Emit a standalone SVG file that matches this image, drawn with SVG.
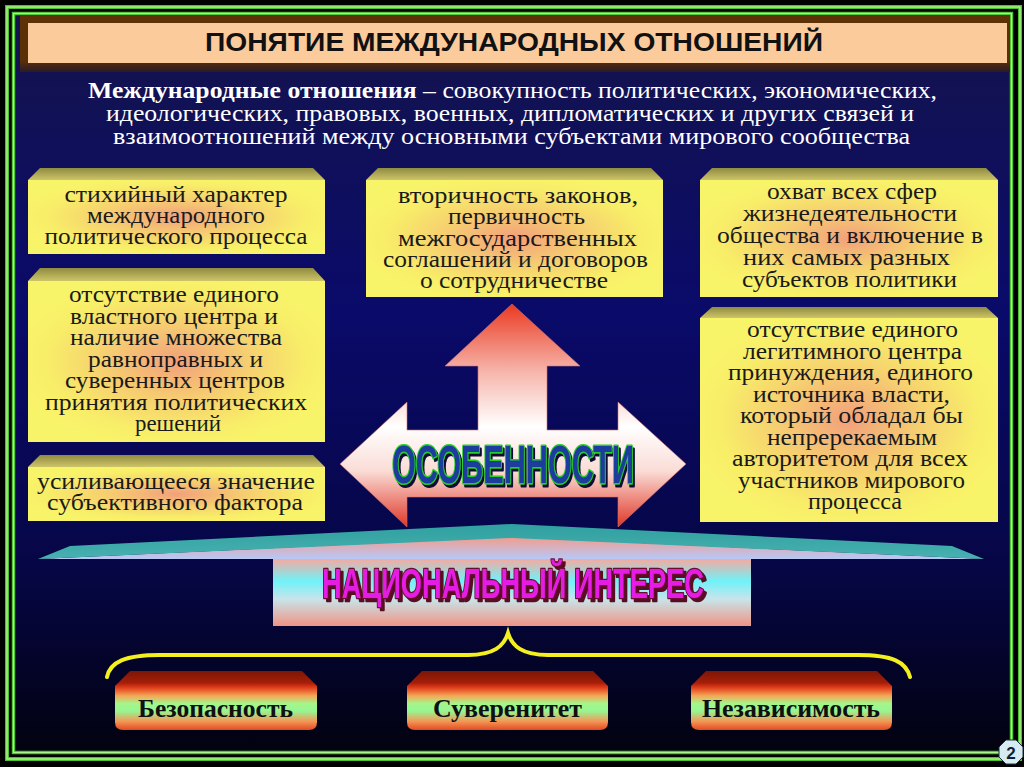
<svg xmlns="http://www.w3.org/2000/svg" width="1024" height="767" viewBox="0 0 1024 767">
<defs>
<linearGradient id="bg" x1="0" y1="0" x2="0" y2="1">
<stop offset="0" stop-color="#14144c"/>
<stop offset="0.4" stop-color="#0a0a6a"/>
<stop offset="0.75" stop-color="#060646"/>
<stop offset="1" stop-color="#020210"/>
</linearGradient>
<linearGradient id="brown" x1="0" y1="0" x2="0" y2="1">
<stop offset="0" stop-color="#5e3206"/>
<stop offset="0.8" stop-color="#5a3008"/>
<stop offset="1" stop-color="#2a1a2a"/>
</linearGradient>
<radialGradient id="ybox" cx="0.5" cy="0.5" r="0.55">
<stop offset="0" stop-color="#f2a07c"/>
<stop offset="0.45" stop-color="#f6d070"/>
<stop offset="0.8" stop-color="#f8ee68"/>
<stop offset="1" stop-color="#f8f46a"/>
</radialGradient>
<linearGradient id="bevel" x1="0" y1="0" x2="0" y2="1">
<stop offset="0" stop-color="#8e8a40"/>
<stop offset="1" stop-color="#cec468"/>
</linearGradient>
<linearGradient id="arrow" gradientUnits="userSpaceOnUse" x1="0" y1="304" x2="0" y2="527">
<stop offset="0" stop-color="#ea3a22"/>
<stop offset="0.3" stop-color="#f6b4aa"/>
<stop offset="0.55" stop-color="#ffffff"/>
<stop offset="0.75" stop-color="#fadcd6"/>
<stop offset="1" stop-color="#e03626"/>
</linearGradient>
<linearGradient id="under" gradientUnits="userSpaceOnUse" x1="0" y1="536" x2="0" y2="559">
<stop offset="0" stop-color="#f49a88"/>
<stop offset="1" stop-color="#b8c8f8"/>
</linearGradient>
<linearGradient id="teal" x1="0" y1="0" x2="0" y2="1">
<stop offset="0" stop-color="#30a0a0"/>
<stop offset="1" stop-color="#48b0b0"/>
</linearGradient>
<linearGradient id="nat" x1="0" y1="0" x2="0" y2="1">
<stop offset="0" stop-color="#f4aaa2"/>
<stop offset="0.33" stop-color="#70f2f8"/>
<stop offset="0.6" stop-color="#c8e4ea"/>
<stop offset="1" stop-color="#f09484"/>
</linearGradient>
<linearGradient id="gb" x1="0" y1="0" x2="0" y2="1">
<stop offset="0" stop-color="#7c1606"/>
<stop offset="0.2" stop-color="#a41e08"/>
<stop offset="0.28" stop-color="#e03c1a"/>
<stop offset="0.42" stop-color="#f6a656"/>
<stop offset="0.55" stop-color="#a4f68a"/>
<stop offset="0.68" stop-color="#96f692"/>
<stop offset="0.85" stop-color="#f49858"/>
<stop offset="1" stop-color="#e44a22"/>
</linearGradient>
<filter id="shBlue" x="-10%" y="-20%" width="130%" height="150%">
<feDropShadow dx="2" dy="3" stdDeviation="0.5" flood-color="#101030" flood-opacity="1"/>
</filter>
<filter id="shRed" x="-10%" y="-20%" width="130%" height="150%">
<feDropShadow dx="3" dy="3" stdDeviation="0.3" flood-color="#5a0a20" flood-opacity="1"/>
</filter>
<style>
.bt{font-family:"Liberation Serif","Times New Roman",serif;font-size:24px;fill:#1a1a1a;text-anchor:middle}
.df{font-family:"Liberation Serif","Times New Roman",serif;font-size:23px;fill:#ffffff;text-anchor:middle}
.bb{font-family:"Liberation Serif","Times New Roman",serif;font-size:25px;font-weight:bold;fill:#101010;text-anchor:middle}
.face{fill:url(#ybox)}
.bev{fill:url(#bevel)}
.gbox{fill:url(#gb)}
</style>
</defs>

<rect x="0" y="0" width="1024" height="767" fill="#000000"/>
<rect x="15" y="15" width="995" height="736" fill="url(#bg)"/>
<g id="frame" fill="none">
<rect x="7" y="7" width="1013" height="752" stroke="#4cc030" stroke-width="4"/>
<rect x="7" y="7" width="1013" height="752" stroke="#a8f488" stroke-width="1.5"/>
<rect x="13.5" y="13.5" width="998" height="739" stroke="#4cc030" stroke-width="3.5"/>
<rect x="13.5" y="13.5" width="998" height="739" stroke="#a8f488" stroke-width="1.2"/>
</g>

<g id="title">
<rect x="20" y="15" width="990" height="57" fill="url(#brown)"/>
<rect x="28" y="23" width="979" height="40" fill="#fccb9c"/>
<text x="514" y="51" font-family="'Liberation Sans Narrow','Liberation Sans',Arial,sans-serif" font-size="26" font-weight="bold" fill="#111111" text-anchor="middle" textLength="618" lengthAdjust="spacingAndGlyphs">ПОНЯТИЕ МЕЖДУНАРОДНЫХ ОТНОШЕНИЙ</text>
</g>

<g id="definition">
<text class="df" x="512.5" y="98" textLength="849" lengthAdjust="spacingAndGlyphs"><tspan font-weight="bold">Международные отношения</tspan> – совокупность политических, экономических,</text>
<text class="df" x="510" y="121" textLength="808" lengthAdjust="spacingAndGlyphs">идеологических, правовых, военных, дипломатических и других связей и</text>
<text class="df" x="511.5" y="144" textLength="797" lengthAdjust="spacingAndGlyphs">взаимоотношений между основными субъектами мирового сообщества</text>
</g>

<g id="box-l1">
<polygon class="bev" points="28,180 40,168 313,168 325,180"/>
<rect class="face" x="28" y="180" width="297" height="74"/>
<text class="bt" x="176" y="202" textLength="223" lengthAdjust="spacingAndGlyphs">стихийный характер</text>
<text class="bt" x="176" y="223" textLength="178" lengthAdjust="spacingAndGlyphs">международного</text>
<text class="bt" x="176" y="244" textLength="263" lengthAdjust="spacingAndGlyphs">политического процесса</text>
</g>

<g id="box-l2">
<polygon class="bev" points="28,281 40,268 313,268 325,281"/>
<rect class="face" x="28" y="281" width="297" height="161"/>
<text class="bt" x="174" y="302" textLength="210" lengthAdjust="spacingAndGlyphs">отсутствие единого</text>
<text class="bt" x="174" y="323.5" textLength="208" lengthAdjust="spacingAndGlyphs">властного центра и</text>
<text class="bt" x="176" y="345" textLength="212" lengthAdjust="spacingAndGlyphs">наличие множества</text>
<text class="bt" x="175.5" y="366.5" textLength="175" lengthAdjust="spacingAndGlyphs">равноправных и</text>
<text class="bt" x="175" y="388" textLength="220" lengthAdjust="spacingAndGlyphs">суверенных центров</text>
<text class="bt" x="176" y="409.5" textLength="262" lengthAdjust="spacingAndGlyphs">принятия политических</text>
<text class="bt" x="178" y="431" textLength="86" lengthAdjust="spacingAndGlyphs">решений</text>
</g>

<g id="box-l3">
<polygon class="bev" points="28,467 40,455 313,455 325,467"/>
<rect class="face" x="28" y="467" width="297" height="54"/>
<text class="bt" x="176" y="489" textLength="278" lengthAdjust="spacingAndGlyphs">усиливающееся значение</text>
<text class="bt" x="175" y="510" textLength="256" lengthAdjust="spacingAndGlyphs">субъективного фактора</text>
</g>

<g id="box-c">
<polygon class="bev" points="366,180 378,168 651,168 663,180"/>
<rect class="face" x="366" y="180" width="297" height="117"/>
<text class="bt" x="518" y="203" textLength="240" lengthAdjust="spacingAndGlyphs">вторичность законов,</text>
<text class="bt" x="516.5" y="224" textLength="137" lengthAdjust="spacingAndGlyphs">первичность</text>
<text class="bt" x="517.5" y="245.5" textLength="239" lengthAdjust="spacingAndGlyphs">межгосударственных</text>
<text class="bt" x="515.5" y="266.5" textLength="265" lengthAdjust="spacingAndGlyphs">соглашений и договоров</text>
<text class="bt" x="514" y="288" textLength="188" lengthAdjust="spacingAndGlyphs">о сотрудничестве</text>
</g>

<g id="box-r1">
<polygon class="bev" points="700,180 712,168 986,168 998,180"/>
<rect class="face" x="700" y="180" width="298" height="117"/>
<text class="bt" x="852" y="199" textLength="170" lengthAdjust="spacingAndGlyphs">охват всех сфер</text>
<text class="bt" x="850" y="221" textLength="214" lengthAdjust="spacingAndGlyphs">жизнедеятельности</text>
<text class="bt" x="850" y="243" textLength="266" lengthAdjust="spacingAndGlyphs">общества и включение в</text>
<text class="bt" x="846.5" y="265" textLength="207" lengthAdjust="spacingAndGlyphs">них самых разных</text>
<text class="bt" x="849.5" y="287" textLength="215" lengthAdjust="spacingAndGlyphs">субъектов политики</text>
</g>

<g id="box-r2">
<polygon class="bev" points="700,318 712,307 986,307 998,318"/>
<rect class="face" x="700" y="318" width="298" height="204"/>
<text class="bt" x="852.5" y="337" textLength="211" lengthAdjust="spacingAndGlyphs">отсутствие единого</text>
<text class="bt" x="852.5" y="358.5" textLength="219" lengthAdjust="spacingAndGlyphs">легитимного центра</text>
<text class="bt" x="850.5" y="380" textLength="245" lengthAdjust="spacingAndGlyphs">принуждения, единого</text>
<text class="bt" x="851.5" y="401.5" textLength="197" lengthAdjust="spacingAndGlyphs">источника власти,</text>
<text class="bt" x="851.5" y="423" textLength="223" lengthAdjust="spacingAndGlyphs">который обладал бы</text>
<text class="bt" x="852" y="444.5" textLength="170" lengthAdjust="spacingAndGlyphs">непререкаемым</text>
<text class="bt" x="850" y="466" textLength="236" lengthAdjust="spacingAndGlyphs">авторитетом для всех</text>
<text class="bt" x="851.5" y="487.5" textLength="227" lengthAdjust="spacingAndGlyphs">участников мирового</text>
<text class="bt" x="855" y="509" textLength="94" lengthAdjust="spacingAndGlyphs">процесса</text>
</g>

<g id="arrow-features">
<polygon points="512,304 580,366 547,366 547,430 618,430 618,402 686,464 618,527 618,497 407,497 407,527 340,464 407,402 407,430 478,430 478,366 445,366" fill="url(#arrow)" stroke="#d07070" stroke-width="0.6"/>
<text x="513" y="483" filter="url(#shBlue)" font-family="'Liberation Sans Narrow','Liberation Sans',Arial,sans-serif" font-size="54" font-weight="bold" fill="#1e3c9e" stroke="#2ccc2c" stroke-width="3" paint-order="stroke" stroke-linejoin="round" text-anchor="middle" textLength="242" lengthAdjust="spacingAndGlyphs">ОСОБЕННОСТИ</text>
</g>

<g id="national-interest">
<polygon points="38,559 512,537 984,559" fill="url(#under)"/>
<polygon points="38,559 70,546 512,524 952,546 984,559 512,538" fill="url(#teal)"/>
<rect x="273" y="559" width="478" height="67" fill="url(#nat)"/>
<text x="513" y="598" filter="url(#shRed)" font-family="'Liberation Sans Narrow','Liberation Sans',Arial,sans-serif" font-size="42" font-weight="bold" fill="#e41ee4" stroke="#6a0a30" stroke-width="2.5" paint-order="stroke" stroke-linejoin="round" text-anchor="middle" textLength="382" lengthAdjust="spacingAndGlyphs">НАЦИОНАЛЬНЫЙ ИНТЕРЕС</text>
</g>

<g id="connectors">
<path d="M107,677 C110,662 125,655 160,655 L468,655 C494,655 504,646 508,633 C512,646 522,655 548,655 L858,655 C893,655 906,662 910,677" fill="none" stroke="#f4f020" stroke-width="4" stroke-linecap="round"/>
</g>

<g id="box-security">
<path class="gbox" d="M115,686 L130,671 L302,671 L317,686 L317,722 Q317,730 309,730 L123,730 Q115,730 115,722 Z"/>
<text class="bb" x="215.5" y="717" textLength="155" lengthAdjust="spacingAndGlyphs">Безопасность</text>
</g>
<g id="box-sovereignty">
<path class="gbox" d="M407,686 L422,671 L593,671 L608,686 L608,722 Q608,730 600,730 L415,730 Q407,730 407,722 Z"/>
<text class="bb" x="507.5" y="717" textLength="149" lengthAdjust="spacingAndGlyphs">Суверенитет</text>
</g>
<g id="box-independence">
<path class="gbox" d="M691,686 L706,671 L877,671 L892,686 L892,722 Q892,730 884,730 L699,730 Q691,730 691,722 Z"/>
<text class="bb" x="791" y="717" textLength="178" lengthAdjust="spacingAndGlyphs">Независимость</text>
</g>

<g id="page-number">
<polygon points="1006,740 1016,740 1023,747 1023,757 1016,764 1006,764 999,757 999,747" fill="#d6ecf2" stroke="#203040" stroke-width="1"/>
<text x="1011" y="759" font-family="'Liberation Sans',Arial,sans-serif" font-size="17" font-weight="bold" fill="#102030" text-anchor="middle">2</text>
</g>
</svg>
